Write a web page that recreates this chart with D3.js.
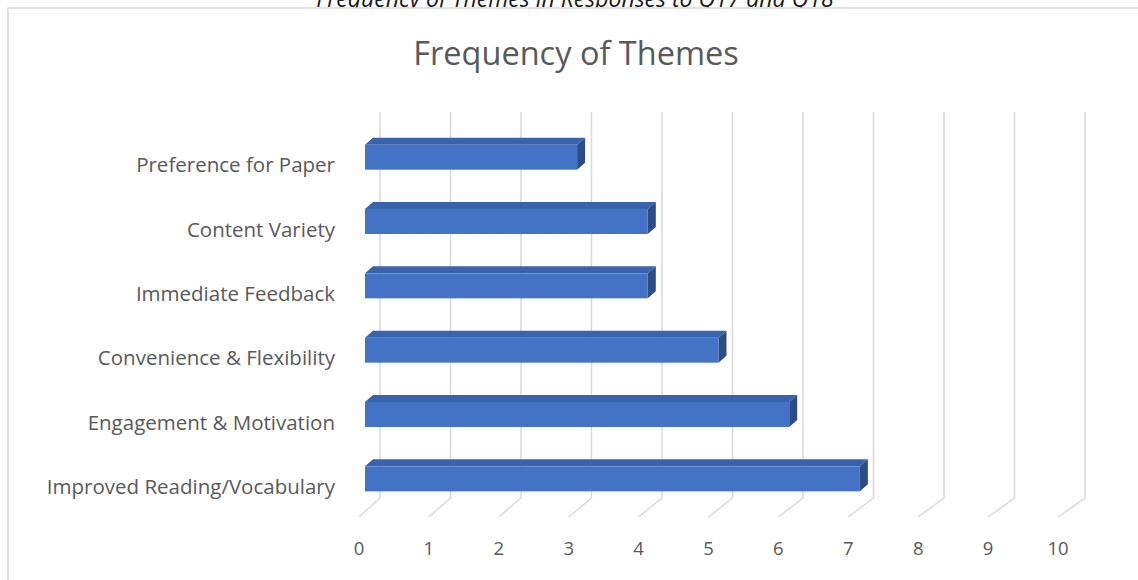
<!DOCTYPE html>
<html>
<head>
<meta charset="utf-8">
<script src="https://cdn.jsdelivr.net/npm/d3@7"></script>
<style>
  html, body { margin: 0; padding: 0; background: #fff; }
  svg { display: block; font-family: 'Open Sans', sans-serif; }
</style>
</head>
<body>
<div id="chart"></div>
<script>
// data
var themes = ['Preference for Paper', 'Content Variety', 'Immediate Feedback',
  'Convenience & Flexibility', 'Engagement & Motivation', 'Improved Reading/Vocabulary'];
var counts = [3, 4, 4, 5, 6, 7];
var ticks = [0, 1, 2, 3, 4, 5, 6, 7, 8, 9, 10];
var chartTitle = 'Frequency of Themes';
var caption = 'Frequency of Themes in Responses to Q17 and Q18';

var W = 1138, H = 580;
var svg = d3.select('#chart').append('svg').attr('width', W).attr('height', H);

// caption above the chart box (cut at the top of the page)
svg.append('text')
  .attr('x', 575).attr('y', 7)
  .attr('text-anchor', 'middle')
  .style('font-style', 'italic')
  .style('font-size', '23px')
  .style('fill', '#1a1a1a')
  .text(caption);

// chart area: white box with a light border, covering the caption's descenders
svg.append('rect')
  .attr('x', 8).attr('y', 8)
  .attr('width', W + 10).attr('height', H + 10)
  .attr('fill', '#fff')
  .attr('stroke', '#d9d9d9')
  .attr('stroke-width', 1.5);

svg.append('text')
  .attr('x', 576).attr('y', 65)
  .attr('text-anchor', 'middle')
  .style('font-size', '32.5px')
  .style('fill', '#595959')
  .text(chartTitle);

// 3D depth offset between the front and back planes
var depth = { dx: 21, dy: -19 };

var xFront = d3.scaleLinear().domain([0, 10]).range([359, 1058]);
var xBack = d3.scaleLinear().domain([0, 10]).range([380, 1085]);
var xBar = d3.scaleLinear().domain([0, 10]).range([365, 1072]);

var yFront = d3.scaleBand().domain(themes).range([131, 517]);

var floorFront = 517, floorBack = floorFront + depth.dy, topBack = 112;

// back wall gridlines + floor diagonals
var grid = svg.append('g').attr('class', 'grid')
  .attr('stroke', '#d9d9d9').attr('stroke-width', 1.5).attr('fill', 'none');
grid.selectAll('path')
  .data(ticks)
  .enter().append('path')
  .attr('d', function (d) {
    return 'M' + xBack(d) + ',' + topBack + 'V' + floorBack + 'L' + xFront(d) + ',' + floorFront;
  });

// x tick labels
svg.append('g').selectAll('text')
  .data(ticks)
  .enter().append('text')
  .attr('x', function (d) { return xFront(d); })
  .attr('y', 555)
  .attr('text-anchor', 'middle')
  .style('font-size', '18.5px')
  .style('fill', '#595959')
  .text(function (d) { return d; });

// category labels
svg.append('g').selectAll('text')
  .data(themes)
  .enter().append('text')
  .attr('x', 335)
  .attr('y', function (d) { return yFront(d) + yFront.bandwidth() / 2 + 2; })
  .attr('dy', '0.35em')
  .attr('text-anchor', 'end')
  .style('font-size', '20.5px')
  .style('fill', '#595959')
  .text(function (d) { return d; });

// bars
var barH = 25, bdx = 8, bdy = -7, lift = -6;
var bars = svg.append('g').selectAll('g')
  .data(themes.map(function (t, i) { return { theme: t, value: counts[i] }; }))
  .enter().append('g');

function barTop(d) { return yFront(d.theme) + yFront.bandwidth() / 2 + lift - barH / 2; }

bars.append('path') // top face
  .attr('d', function (d) {
    var x0 = xBar(0), x1 = xBar(d.value), y = barTop(d);
    return 'M' + x0 + ',' + y + 'L' + (x0 + bdx) + ',' + (y + bdy) + 'H' + (x1 + bdx) + 'L' + x1 + ',' + y + 'Z';
  })
  .attr('fill', '#3a63ad');

bars.append('path') // side face
  .attr('d', function (d) {
    var x1 = xBar(d.value), y = barTop(d);
    return 'M' + x1 + ',' + y + 'L' + (x1 + bdx) + ',' + (y + bdy) + 'V' + (y + bdy + barH) + 'L' + x1 + ',' + (y + barH) + 'Z';
  })
  .attr('fill', '#2d4d86');

bars.append('rect') // front face
  .attr('x', xBar(0))
  .attr('y', barTop)
  .attr('width', function (d) { return xBar(d.value) - xBar(0); })
  .attr('height', barH)
  .attr('fill', '#4472c4');
</script>
</body>
</html>
